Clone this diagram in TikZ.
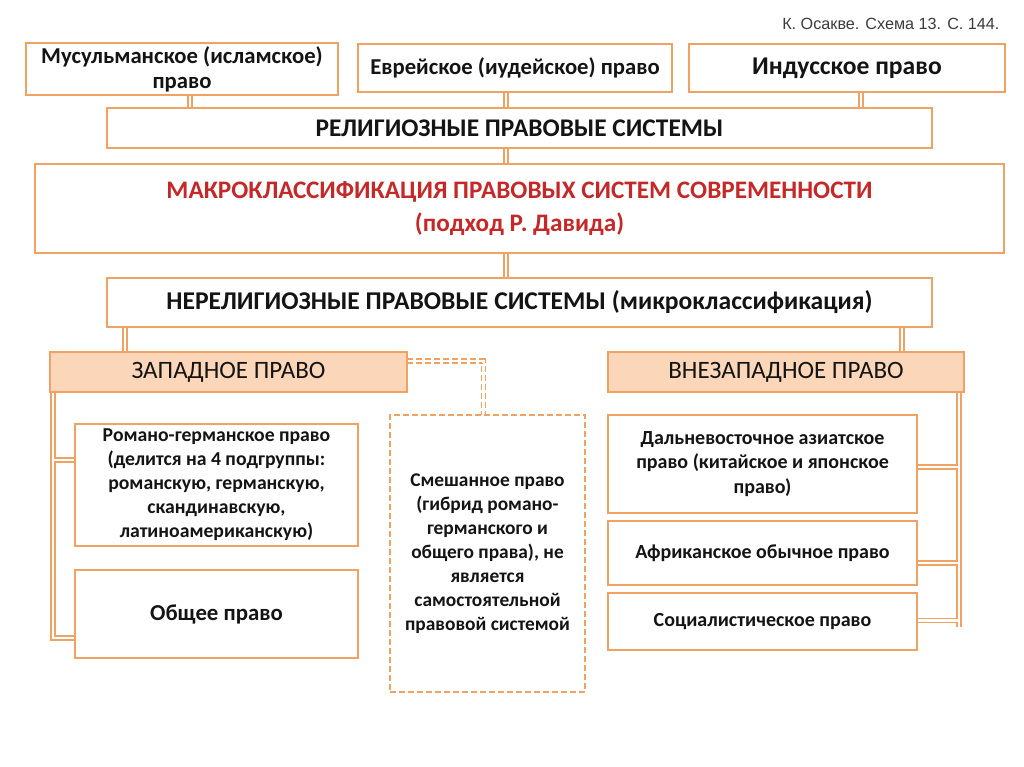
\documentclass[tikz,border=0pt]{standalone}
\usepackage{fontspec}
\setmainfont{Carlito}
\newfontfamily\citefont{Liberation Sans}
\definecolor{orng}{RGB}{238,163,100}
\definecolor{peach}{RGB}{251,214,184}
\definecolor{ttl}{RGB}{196,40,40}
\definecolor{txt}{RGB}{20,20,20}
\pgfdeclarelayer{bg}
\pgfsetlayers{bg,main}
\begin{document}
\begin{tikzpicture}[x=1pt,y=-1pt,
  box/.style={draw=orng,line width=2.6pt,fill=white,inner sep=1pt,outer sep=0pt,align=center,text=txt,font=\bfseries},
  hdr/.style={box,fill=peach,font=\fontsize{25}{28}\selectfont},
  conn/.style={draw=orng,line width=1.8pt,double=white,double distance=2.2pt},
  dconn/.style={conn,dash pattern=on 6pt off 3pt},
  fs/.style={font=\bfseries\fontsize{#1}{24}\selectfont}
]
\begin{pgfonlayer}{bg}
\fill[white] (0,0) rectangle (1024,767);
\end{pgfonlayer}
\useasboundingbox (0,0) rectangle (1024,767);

\node[anchor=east,font=\citefont\fontsize{16.2}{18}\selectfont,text={rgb,255:red,60;green,60;blue,60}] (cite) at (1003,24) {К. Осакве. Схема 13. С. 144.};

\node[box,minimum width=312,minimum height=52,font=\bfseries\fontsize{22.7}{25}\selectfont] (mus) at (182,69) {Мусульманское (исламское)\\право};
\node[box,minimum width=314,minimum height=48,font=\bfseries\fontsize{22.7}{25}\selectfont] (jew) at (515,68) {Еврейское (иудейское) право};
\node[box,minimum width=316,minimum height=48,font=\bfseries\fontsize{25.6}{28}\selectfont] (hin) at (847,68) {Индусское право};
\node[box,minimum width=825,minimum height=40,font=\bfseries\fontsize{25.4}{28}\selectfont] (rel) at (519.5,128) {РЕЛИГИОЗНЫЕ ПРАВОВЫЕ СИСТЕМЫ};
\node[box,minimum width=969,minimum height=89,text=ttl,font=\bfseries\fontsize{25.2}{33}\selectfont] (mac) at (519.5,208.5) {МАКРОКЛАССИФИКАЦИЯ ПРАВОВЫХ СИСТЕМ СОВРЕМЕННОСТИ\\(подход Р. Давида)};
\node[box,minimum width=825,minimum height=49,font=\bfseries\fontsize{25.6}{28}\selectfont] (nrel) at (519.5,302.5) {НЕРЕЛИГИОЗНЫЕ ПРАВОВЫЕ СИСТЕМЫ (микроклассификация)};
\node[hdr,minimum width=357,minimum height=40] (west) at (228.5,372) {ЗАПАДНОЕ ПРАВО};
\node[hdr,minimum width=356,minimum height=40] (nwest) at (786,372) {ВНЕЗАПАДНОЕ ПРАВО};
\node[box,minimum width=283,minimum height=122,fs=19.7] (rom) at (216.5,485) {Романо-германское право\\(делится на 4 подгруппы:\\романскую, германскую,\\скандинавскую,\\латиноамериканскую)};
\node[box,minimum width=283,minimum height=88,fs=22.8] (com) at (216.5,614) {Общее право};
\node[box,minimum width=195,minimum height=277,dash pattern=on 6pt off 3pt,line width=2pt,fs=19.4] (mix) at (487.5,553.5) {Смешанное право\\(гибрид романо-\\германского и\\общего права), не\\является\\самостоятельной\\правовой системой};
\node[box,minimum width=309,minimum height=98,font=\bfseries\fontsize{20}{24.5}\selectfont] (far) at (762.5,464) {Дальневосточное азиатское\\право (китайское и японское\\право)};
\node[box,minimum width=309,minimum height=64,fs=20] (afr) at (762.5,553) {Африканское обычное право};
\node[box,minimum width=309,minimum height=57,fs=20] (soc) at (762.5,621.5) {Социалистическое право};

\coordinate (wtr) at ([xshift=3]west.south west);
\coordinate (rb) at ([yshift=25]rom.west);
\coordinate (cb) at ([yshift=-24]com.west);
\coordinate (ntr) at ([xshift=-5]nwest.south east);
\coordinate (fb) at ([yshift=-3]far.east);
\coordinate (ab) at ([yshift=-10]afr.east);
\coordinate (sb) at ([yshift=1]soc.east);
\coordinate (dw) at ([yshift=11]west.east);
\coordinate (dm) at ([xshift=-4]mix.north);

\begin{pgfonlayer}{bg}
\path[conn] ([xshift=8]mus.south) -- ([xshift=8]mus.south |- rel.north);
\path[conn] ([xshift=-9]jew.south) -- ([xshift=-9]jew.south |- rel.north);
\path[conn] ([xshift=14]hin.south) -- ([xshift=14]hin.south |- rel.north);
\path[conn] ([xshift=-13.5]rel.south) -- ([xshift=-13.5]rel.south |- mac.north);
\path[conn] ([xshift=-13.5]mac.south) -- ([xshift=-13.5]mac.south |- nrel.north);
\path[conn] ([xshift=75]west.north west) -- ([xshift=75]west.north west |- nrel.south);
\path[conn] ([xshift=-62]nwest.north east) -- ([xshift=-62]nwest.north east |- nrel.south);
\path[conn] (wtr) |- (cb) (wtr |- rb) -- (rb);
\path[conn] (ntr) -- ([yshift=-6]ntr |- sb) (ntr |- sb) -- (sb) (ntr |- fb) -- (fb) (ntr |- ab) -- (ab);
\path[dconn] (dw) -| (dm);
\end{pgfonlayer}
\end{tikzpicture}
\end{document}
